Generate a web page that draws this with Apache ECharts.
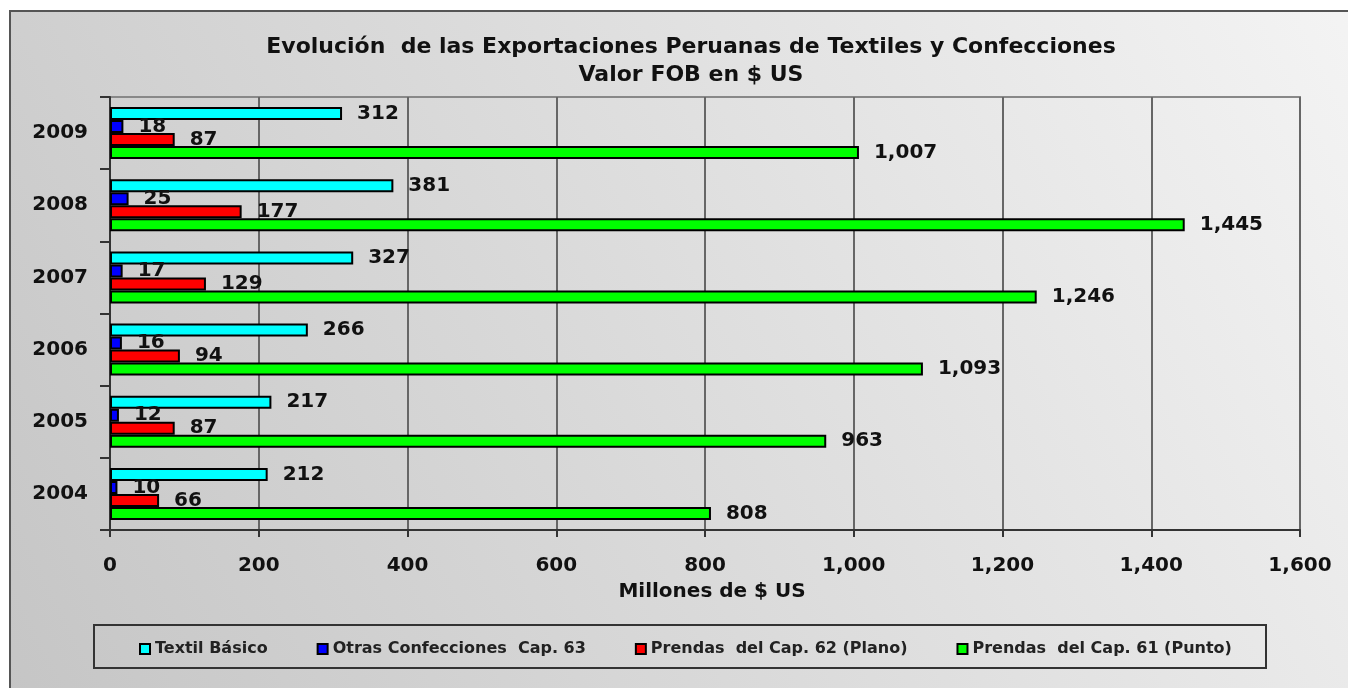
<!DOCTYPE html>
<html>
<head>
<meta charset="utf-8">
<script src="https://cdn.jsdelivr.net/npm/echarts@6/dist/echarts.min.js"></script>
<style>
  html, body { margin: 0; padding: 0; background: #fff; }
  #chart { width: 1348px; height: 688px; }
</style>
</head>
<body>
<div id="chart"></div>
<script>
// años, de arriba hacia abajo
var years = ["2009", "2008", "2007", "2006", "2005", "2004"];

var textilBasico = [312, 381, 327, 266, 217, 212];
var otrasConfecciones = [18, 25, 17, 16, 12, 10];
var prendasPlano = [87, 177, 129, 94, 87, 66];
var prendasPunto = [1007, 1445, 1246, 1093, 963, 808];

var seriesNames = [
  "Textil Básico",
  "Otras Confecciones  Cap. 63",
  "Prendas  del Cap. 62 (Plano)",
  "Prendas  del Cap. 61 (Punto)"
];
var seriesColors = ["#00ffff", "#0000ff", "#ff0000", "#00ff00"];
var seriesData = [textilBasico, otrasConfecciones, prendasPlano, prendasPunto];

var font = "'DejaVu Sans', Arial, sans-serif";

function fmt(v) {
  return v.toString().replace(/\B(?=(\d{3})+(?!\d))/g, ",");
}

var myChart = echarts.init(document.getElementById("chart"));

myChart.setOption({
  animation: false,
  textStyle: { fontFamily: font },
  graphic: [
    {
      type: "rect",
      z: -10,
      shape: { x: 10, y: 11, width: 1360, height: 700 },
      style: {
        fill: new echarts.graphic.LinearGradient(1, 0, 0, 1, [
          { offset: 0, color: "#f4f4f4" },
          { offset: 1, color: "#c5c5c5" }
        ]),
        stroke: "#555",
        lineWidth: 2
      }
    },
    {
      type: "rect",
      z: -5,
      shape: { x: 94, y: 625, width: 1172, height: 43 },
      style: { fill: "rgba(0,0,0,0)", stroke: "#333", lineWidth: 2 }
    }
  ],
  title: {
    text: "Evolución  de las Exportaciones Peruanas de Textiles y Confecciones\nValor FOB en $ US",
    left: 686,
    top: 28,
    textAlign: "center",
    textStyle: {
      fontFamily: font,
      fontSize: 22,
      fontWeight: "bold",
      color: "#111",
      lineHeight: 28
    }
  },
  legend: {
    data: seriesNames,
    left: 134,
    top: 636,
    itemWidth: 10,
    itemHeight: 10,
    itemGap: 49,
    icon: "rect",
    textStyle: {
      fontFamily: font,
      fontSize: 16,
      fontWeight: "bold",
      color: "#222"
    }
  },
  grid: {
    left: 110,
    right: 48,
    top: 97,
    bottom: 158,
    show: true,
    borderColor: "#888",
    borderWidth: 2
  },
  xAxis: {
    type: "value",
    min: 0,
    max: 1600,
    interval: 200,
    name: "Millones de $ US",
    nameLocation: "middle",
    nameGap: 52,
    nameTextStyle: {
      fontFamily: font,
      fontSize: 20,
      fontWeight: "bold",
      color: "#111",
      padding: [0, 0, 0, 14]
    },
    axisLine: { show: true, lineStyle: { color: "#333", width: 2 } },
    axisTick: { show: true, length: 7, lineStyle: { color: "#333", width: 2 } },
    axisLabel: {
      margin: 26,
      fontFamily: font,
      fontSize: 20,
      fontWeight: "bold",
      color: "#111",
      formatter: function (v) { return fmt(v); }
    },
    splitLine: { show: true, lineStyle: { color: "#666", width: 2 } }
  },
  yAxis: {
    type: "category",
    data: years,
    inverse: true,
    axisLine: { show: true, lineStyle: { color: "#333", width: 2 } },
    axisTick: { show: true, length: 10, lineStyle: { color: "#333", width: 2 } },
    axisLabel: {
      margin: 22,
      fontFamily: font,
      fontSize: 20,
      fontWeight: "bold",
      color: "#111"
    }
  },
  series: seriesNames.map(function (name, i) {
    return {
      name: name,
      type: "bar",
      data: seriesData[i],
      barWidth: 13,
      barGap: "0%",
      itemStyle: {
        color: seriesColors[i],
        borderColor: "#000",
        borderWidth: 2
      },
      label: {
        show: true,
        position: "right",
        distance: 15,
        fontFamily: font,
        fontSize: 20,
        fontWeight: "bold",
        color: "#111",
        formatter: function (p) { return fmt(p.value); }
      }
    };
  })
});
</script>
</body>
</html>
